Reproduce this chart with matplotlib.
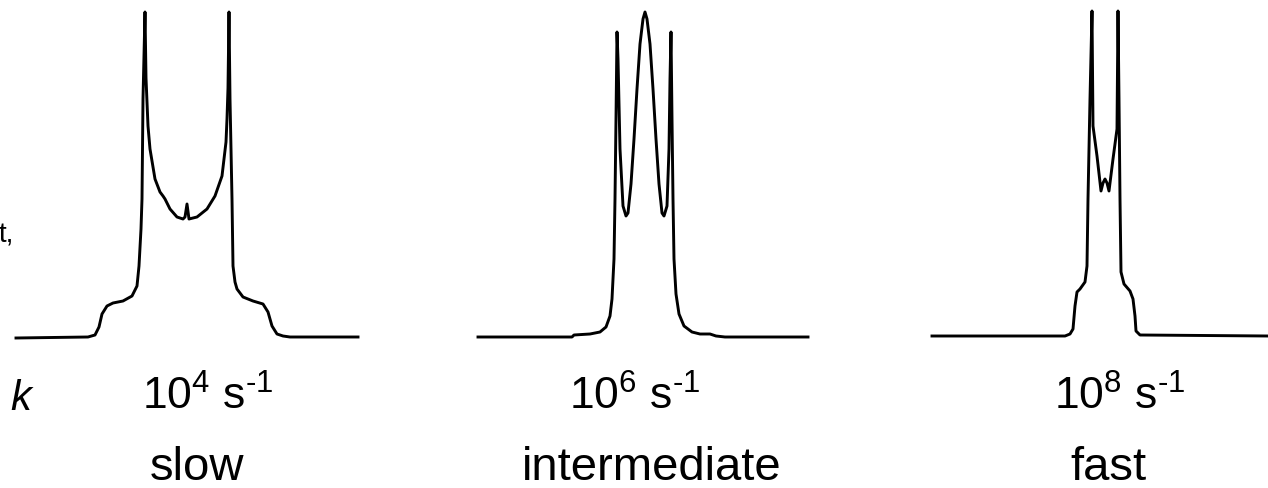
#!/usr/bin/env python3
"""
Exchange-broadened powder line shapes at three exchange rates k
"""

import matplotlib.pyplot as plt

# frequency offset from the line centre (arb. units) and intensity (arb. units)
slow_freq = [-171, -99, -92, -88, -85, -80, -74, -64, -55, -50, -48, -46, -45,
             -44, -42, -41, -39, -37, -32, -27, -24, -22, -17, -10, -4, -2, 0, 2,
             10, 20, 28, 35, 39, 40, 41, 42, 43, 45, 46, 48, 50, 56, 66, 76, 81,
             85, 90, 96, 103, 171]
slow_int = [0, 1, 3, 11, 24, 32, 35, 37, 42, 52, 72, 109, 139,
            239, 326, 260, 212, 189, 159, 146, 142, 139, 129, 121, 119, 121, 134, 119,
            121, 129, 142, 162, 196, 219, 250, 326, 239, 139, 72, 56, 49, 41, 37, 34, 26,
            12, 4, 2, 1, 1]

inter_freq = [-167, -73, -71, -55, -45, -39, -35, -33, -31, -30, -29, -28, -27,
              -25, -22, -19, -17, -14, -11, -8, -5, -2, 0, 2, 5, 8, 11, 14, 17,
              19, 22, 24, 25, 26, 27, 28, 29, 31, 34, 39, 47, 55, 65, 71, 80, 163]
inter_int = [0, 0, 2, 3, 5, 10, 21, 38, 78, 138, 218, 305, 278,
             188, 131, 121, 124, 153, 198, 248, 293, 318, 325, 318, 293, 248, 198, 153, 124,
             121, 131, 188, 258, 305, 218, 138, 78, 43, 23, 11, 5, 3, 3, 1, 0, 0]

fast_freq = [-173, -40, -35, -32, -30, -28, -25, -20, -18, -17, -15, -13, -12,
             -8, -4, -2, 0, 2, 4, 8, 12, 13, 14, 15, 16, 19, 25, 28, 30, 31,
             35, 163]
fast_int = [0, 0, 2, 7, 30, 44, 47, 54, 70, 137, 237, 325, 210,
            180, 145, 153, 157, 153, 145, 177, 207, 325, 237, 137, 64, 52, 45, 37, 20, 5,
            1, 0]

rate_labels = [r'$\mathregular{10^4\;s^{\text{-}1}}$',
               r'$\mathregular{10^6\;s^{\text{-}1}}$',
               r'$\mathregular{10^8\;s^{\text{-}1}}$']
regime_labels = ['slow', 'intermediate', 'fast']

plt.rcParams['font.family'] = ['Liberation Sans', 'DejaVu Sans']
plt.rcParams['mathtext.fontset'] = 'custom'
plt.rcParams['mathtext.rm'] = 'Liberation Sans'

W, H = 1268, 489
fig = plt.figure(figsize=(W / 100, H / 100), dpi=100)
fig.patch.set_facecolor('white')

# panel layout in pixels: line centre, baseline row, label centres
panels = [
    dict(f=slow_freq, i=slow_int, cx=187, base=339, rate_x=208, regime_x=197),
    dict(f=inter_freq, i=inter_int, cx=645, base=338, rate_x=635, regime_x=652),
    dict(f=fast_freq, i=fast_int, cx=1105, base=337, rate_x=1120, regime_x=1108),
]

for p, rate, regime in zip(panels, rate_labels, regime_labels):
    x0, x1 = min(p['f']), max(p['f'])
    ax = fig.add_axes([(p['cx'] + x0) / W, (H - p['base']) / H,
                       (x1 - x0) / W, p['base'] / H])
    ax.plot(p['f'], p['i'], color='black', lw=2.1, solid_joinstyle='round',
            clip_on=False)
    ax.set_xlim(x0, x1)
    ax.set_ylim(0, p['base'])
    ax.axis('off')

    fig.text(p['rate_x'] / W, 1 - 410 / H, rate, ha='center', va='baseline',
             fontsize=32)
    fig.text(p['regime_x'] / W, 1 - 480 / H, regime, ha='center', va='baseline',
             fontsize=34)

fig.text(10 / W, 1 - 410 / H, 'k', ha='left', va='baseline', fontsize=30,
         fontstyle='italic')
fig.text(14 / W, 1 - 243 / H, 't,', ha='right', va='baseline', fontsize=20)

fig.savefig('out.png', dpi=100, facecolor='white')
plt.close(fig)
